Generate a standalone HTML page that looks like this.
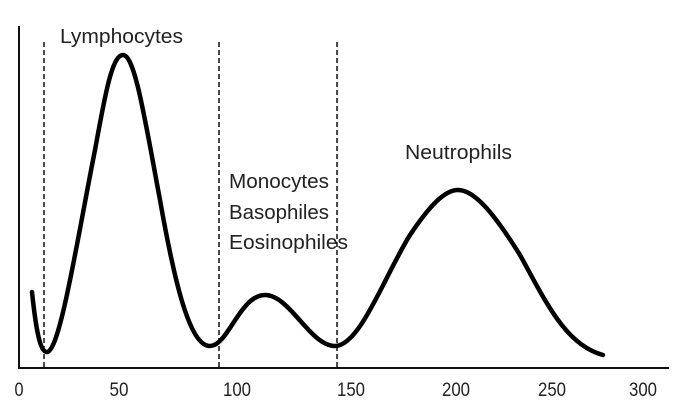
<!DOCTYPE html>
<html><head><style>html,body{margin:0;padding:0;background:#fff;}svg{display:block}</style></head>
<body>
<svg width="682" height="419" viewBox="0 0 682 419" xmlns="http://www.w3.org/2000/svg">
<g stroke="#111" stroke-width="2" fill="none">
<line x1="19" y1="26" x2="19" y2="369"/>
<line x1="18" y1="368" x2="669" y2="368"/>
</g>
<g stroke="#111" stroke-width="1.5" stroke-dasharray="5,3">
<line x1="44" y1="42" x2="44" y2="368"/>
<line x1="219" y1="42" x2="219" y2="368"/>
<line x1="337" y1="42" x2="337" y2="368"/>
</g>
<path d="M32,292 C36,330 40,352 47,352 C60,352 78,235 95,150 C105,95 112,55 123,55 C135,55 145,120 160,200 C175,285 190,346 210,346 C228,346 240,295 265,295 C290,295 310,346 335,346 C360,346 385,275 410,235 C430,205 445,190 458,190 C475,190 495,215 520,255 C545,300 565,345 603,355" stroke="#000" stroke-width="4.5" fill="none" stroke-linecap="round"/>
<g font-family="Liberation Sans, sans-serif" font-size="20" fill="#222">
<text x="60" y="43" textLength="123" lengthAdjust="spacingAndGlyphs">Lymphocytes</text>
<text x="229" y="188" textLength="100" lengthAdjust="spacingAndGlyphs">Monocytes</text>
<text x="229" y="219" textLength="100" lengthAdjust="spacingAndGlyphs">Basophiles</text>
<text x="229" y="249" textLength="119" lengthAdjust="spacingAndGlyphs">Eosinophiles</text>
<text x="405" y="159" textLength="107" lengthAdjust="spacingAndGlyphs">Neutrophils</text>
</g>
<g font-family="Liberation Sans, sans-serif" font-size="19" fill="#222" text-anchor="middle">
<text x="19" y="396" textLength="9" lengthAdjust="spacingAndGlyphs">0</text>
<text x="119" y="396" textLength="19" lengthAdjust="spacingAndGlyphs">50</text>
<text x="237" y="396" textLength="28" lengthAdjust="spacingAndGlyphs">100</text>
<text x="351" y="396" textLength="28" lengthAdjust="spacingAndGlyphs">150</text>
<text x="456" y="396" textLength="28" lengthAdjust="spacingAndGlyphs">200</text>
<text x="552" y="396" textLength="28" lengthAdjust="spacingAndGlyphs">250</text>
<text x="643" y="396" textLength="28" lengthAdjust="spacingAndGlyphs">300</text>
</g>
</svg>
</body></html>
